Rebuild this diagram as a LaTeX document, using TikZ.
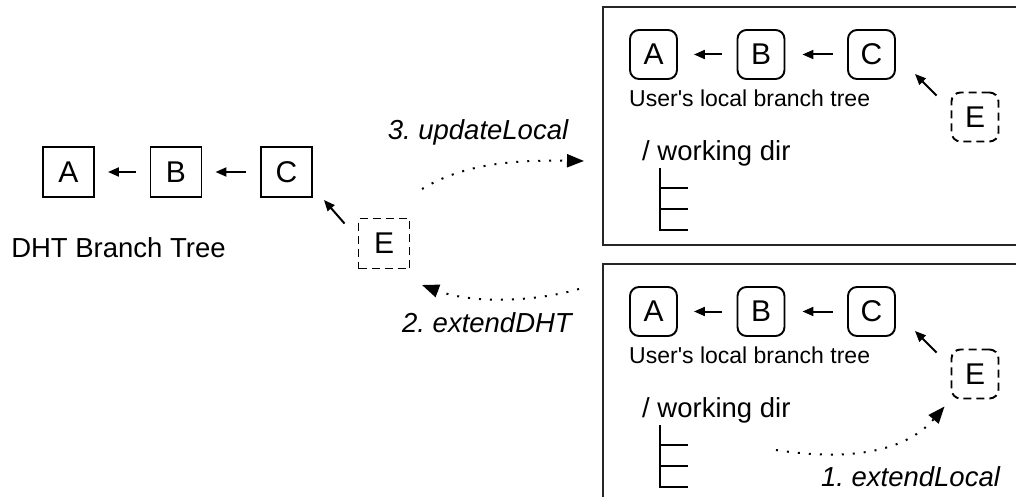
\documentclass[tikz,border=0pt]{standalone}
\usepackage{fontspec}
\setmainfont{Liberation Sans}[Ligatures=TeXOff]
\usetikzlibrary{arrows.meta,calc}
\frenchspacing
\begin{document}
\begin{tikzpicture}[x=1pt,y=-1pt,
  lbl/.style={font=\fontsize{27.5}{30}\selectfont, inner sep=0pt},
  small/.style={font=\fontsize{23}{26}\selectfont, inner sep=0pt},
  oplbl/.style={font=\fontsize{27.5}{30}\selectfont\itshape, inner sep=0pt},
  commit/.style={draw, line width=1.9pt, minimum width=51pt, minimum height=50pt,
    inner sep=0pt, font=\fontsize{30}{32}\selectfont},
  lcommit/.style={commit, rounded corners=9pt, minimum width=47pt, minimum height=49pt},
  pending/.style={dash pattern=on 8pt off 5pt},
  parent/.style={-{Triangle[length=11pt,width=9pt]}, line width=2pt},
  op/.style={-{Triangle[length=17pt,width=13pt]}, line width=2pt,
    dash pattern=on 2pt off 9pt},
  panel/.style={draw=black!85, line width=1.5pt},
  dirtree/.style={line width=1.8pt}
]
\useasboundingbox (0,0) rectangle (1016,497);
\clip (0,0) rectangle (1016,497);

% shared branch tree in the DHT
\node[commit] (dA) at (68.5,172) {A};
\node[commit] (dB) at (176,172) {B};
\node[commit] (dC) at (286.5,172) {C};
\node[commit, pending] (dE) at (384,243.5) {E};
\draw[parent, shorten <=14pt, shorten >=13pt] (dB) -- (dA);
\draw[parent, shorten <=14pt, shorten >=13pt] (dC) -- (dB);
\draw[parent] ($(dE.north west)+(-13,6)$) -- ($(dC.south east)+(11,2)$);
\node[lbl] (dht-lbl) at (118.5,248) {DHT Branch Tree};

% two snapshots of the user's local repository
\draw[panel] (603,7) rectangle (1030,245);
\draw[panel] (603,264) rectangle (1030,520);
\foreach \p/\dy in {t/0,b/257}{
  \node[lcommit] (\p A) at (653.5,54.5+\dy) {A};
  \node[lcommit] (\p B) at (761,54.5+\dy) {B};
  \node[lcommit] (\p C) at (871.5,54.5+\dy) {C};
  \node[lcommit, pending] (\p E) at (975,117+\dy) {E};
  \draw[parent, shorten <=15pt, shorten >=16pt] (\p B) -- (\p A);
  \draw[parent, shorten <=14pt, shorten >=17pt] (\p C) -- (\p B);
  \draw[parent] ($(\p E.north west)+(-14,4)$) -- ($(\p C.south east)+(19,-6)$);
  \node[small, anchor=west] (\p cap) at (629,98+\dy) {User's local branch tree};
  \node[lbl, anchor=west] (\p dir) at (642,153+\dy) {/ working dir};
  \draw[dirtree] (660,168+\dy) -- (660,230+\dy) -- (688,230+\dy);
  \draw[dirtree] (660,188+\dy) -- (688,188+\dy);
  \draw[dirtree] (660,209+\dy) -- (688,209+\dy);
}

% 1. extendLocal
\coordinate (xl-start) at (776,450);
\draw[op] (xl-start) .. controls (860,463) and (910,447) .. ($(bE.south west)+(-6,7)$);
\node[oplbl] (xl-lbl) at (910.5,477) {1. extendLocal};

% 2. extendDHT
\coordinate (ext-start) at (579,289);
\coordinate (ext-end) at (422,285);
\draw[op] (ext-start) .. controls (530,303) and (470,303) .. (ext-end);
\node[oplbl] (ext-lbl) at (487,323) {2. extendDHT};

% 3. updateLocal
\coordinate (up-start) at (422,189);
\coordinate (up-end) at (584,161);
\draw[op] (up-start) .. controls (465,163) and (515,160) .. (up-end);
\node[oplbl] (up-lbl) at (478,132) {3. updateLocal};
\end{tikzpicture}
\end{document}
